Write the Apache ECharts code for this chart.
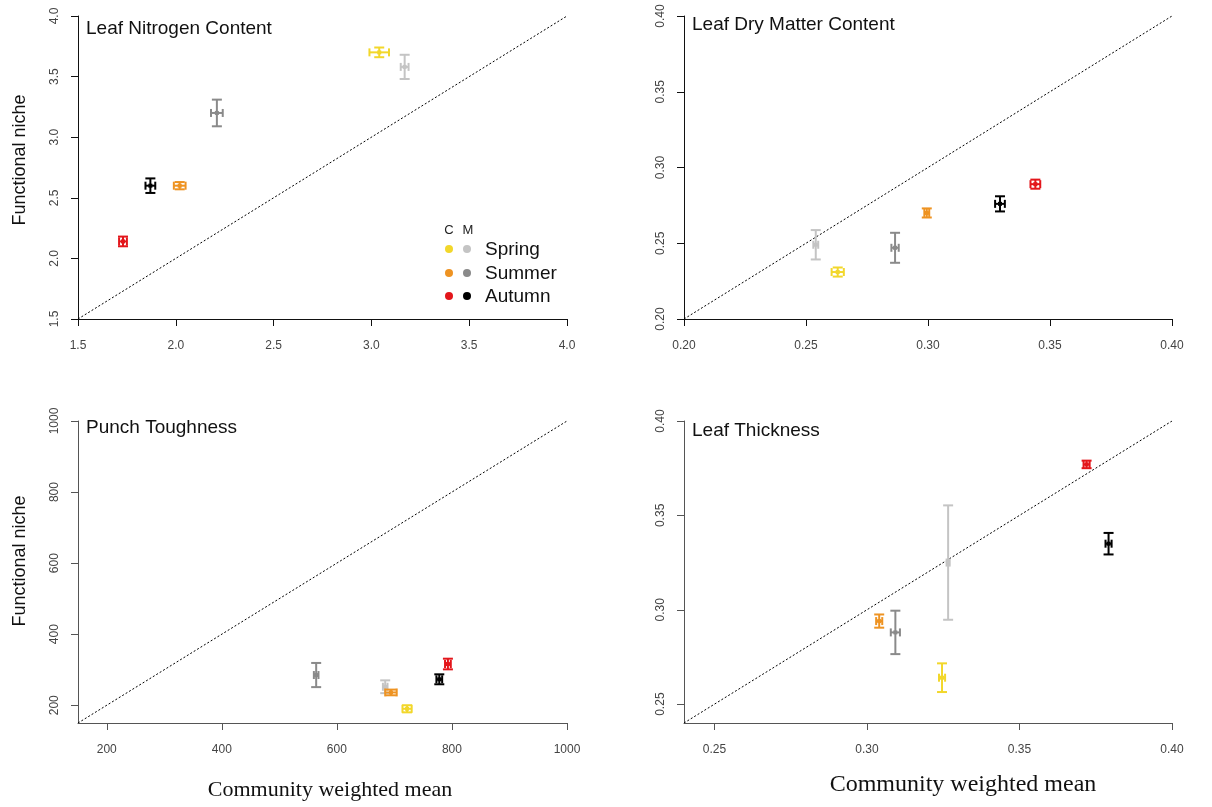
<!DOCTYPE html>
<html>
<head>
<meta charset="utf-8">
<script src="https://cdn.jsdelivr.net/npm/echarts@6/dist/echarts.min.js"></script>
<style>html,body{margin:0;padding:0;background:#fff}#c{width:1212px;height:807px}</style>
</head>
<body>
<div id="c"></div>
<script>
// ---- data (order: Spring, Summer, Autumn) ----
const seasons = ['Spring', 'Summer', 'Autumn'];
const colorsC = ['#F2D72B', '#EE9322', '#E3161B'];
const colorsM = ['#C4C4C4', '#8A8A8A', '#000000'];

const titles = ['Leaf Nitrogen Content', 'Leaf Dry Matter Content', 'Punch Toughness', 'Leaf Thickness'];

// Leaf Nitrogen Content
const lncCx = [3.04, 2.02, 1.73];
const lncCy = [3.70, 2.60, 2.14];
const lncCxErr = [0.05, 0.03, 0.02];
const lncCyErr = [0.04, 0.03, 0.04];
const lncMx = [3.17, 2.21, 1.87];
const lncMy = [3.58, 3.20, 2.60];
const lncMxErr = [0.02, 0.03, 0.025];
const lncMyErr = [0.10, 0.11, 0.06];
const lncTicks = [1.5, 2.0, 2.5, 3.0, 3.5, 4.0];

// Leaf Dry Matter Content
const ldmcCx = [0.263, 0.2995, 0.344];
const ldmcCy = [0.231, 0.270, 0.289];
const ldmcCxErr = [0.0025, 0.001, 0.002];
const ldmcCyErr = [0.003, 0.003, 0.003];
const ldmcMx = [0.254, 0.2865, 0.3295];
const ldmcMy = [0.249, 0.247, 0.276];
const ldmcMxErr = [0.001, 0.0015, 0.002];
const ldmcMyErr = [0.0097, 0.0099, 0.005];
const ldmcTicks = [0.20, 0.25, 0.30, 0.35, 0.40];

// Punch Toughness
const ptCx = [722, 694, 793];
const ptCy = [190, 236, 316];
const ptCxErr = [8, 10, 5];
const ptCyErr = [10, 8, 15];
const ptMx = [684, 564, 778];
const ptMy = [252, 285, 273];
const ptMxErr = [4, 4, 5];
const ptMyErr = [18, 34, 14];
const ptTicks = [200, 400, 600, 800, 1000];

// Leaf Thickness
const ltCx = [0.3246, 0.304, 0.372];
const ltCy = [0.264, 0.294, 0.377];
const ltCxErr = [0.001, 0.001, 0.001];
const ltCyErr = [0.0076, 0.0035, 0.002];
const ltMx = [0.3266, 0.3093, 0.3792];
const ltMy = [0.325, 0.288, 0.335];
const ltMxErr = [0.0005, 0.0015, 0.001];
const ltMyErr = [0.0303, 0.0115, 0.0057];
const ltTicks = [0.25, 0.30, 0.35, 0.40];

const ranges = [[1.5, 4.0], [0.20, 0.40], [150, 1000], [0.24, 0.40]];
const tickSets = [lncTicks, ldmcTicks, ptTicks, ltTicks];
const decimals = [1, 2, 0, 2];

const panelData = [
  [lncCx, lncCy, lncCxErr, lncCyErr, lncMx, lncMy, lncMxErr, lncMyErr],
  [ldmcCx, ldmcCy, ldmcCxErr, ldmcCyErr, ldmcMx, ldmcMy, ldmcMxErr, ldmcMyErr],
  [ptCx, ptCy, ptCxErr, ptCyErr, ptMx, ptMy, ptMxErr, ptMyErr],
  [ltCx, ltCy, ltCxErr, ltCyErr, ltMx, ltMy, ltMxErr, ltMyErr]
];

// ---- layout ----
const gridBoxes = [
  {left: 78, top: 16, width: 489, height: 303},
  {left: 684, top: 16, width: 488, height: 303},
  {left: 78, top: 421, width: 489, height: 302},
  {left: 684, top: 421, width: 488, height: 302}
];
const axisCol = ['#111', '#111', '#555', '#555'];

function makeItems(xs, ys, xe, ye) {
  return xs.map((x, i) => [x, ys[i], x - xe[i], x + xe[i], ys[i] - ye[i], ys[i] + ye[i]]);
}

function renderErr(colors) {
  return function (params, api) {
    const x = api.value(0), y = api.value(1);
    const c = api.coord([x, y]);
    const xl = api.coord([api.value(2), y]);
    const xh = api.coord([api.value(3), y]);
    const yl = api.coord([x, api.value(4)]);
    const yh = api.coord([x, api.value(5)]);
    const col = colors[params.dataIndex];
    const st = {stroke: col, lineWidth: 2, fill: null};
    const cap = 5, hcap = 4;
    const ch = [];
    ch.push({type: 'line', shape: {x1: c[0], y1: yl[1], x2: c[0], y2: yh[1]}, style: st});
    ch.push({type: 'line', shape: {x1: c[0] - cap, y1: yl[1], x2: c[0] + cap, y2: yl[1]}, style: st});
    ch.push({type: 'line', shape: {x1: c[0] - cap, y1: yh[1], x2: c[0] + cap, y2: yh[1]}, style: st});
    ch.push({type: 'line', shape: {x1: xl[0], y1: c[1], x2: xh[0], y2: c[1]}, style: st});
    ch.push({type: 'line', shape: {x1: xl[0], y1: c[1] - hcap, x2: xl[0], y2: c[1] + hcap}, style: st});
    ch.push({type: 'line', shape: {x1: xh[0], y1: c[1] - hcap, x2: xh[0], y2: c[1] + hcap}, style: st});
    ch.push({type: 'rect', shape: {x: c[0] - 2, y: c[1] - 2, width: 4, height: 4}, style: {fill: col}});
    return {type: 'group', children: ch};
  };
}

const grids = [], xAxes = [], yAxes = [], series = [];
for (let p = 0; p < 4; p++) {
  grids.push(Object.assign({containLabel: false}, gridBoxes[p]));
  const r = ranges[p];
  const fmt = v => Number(v).toFixed(decimals[p]);
  const common = {
    type: 'value', gridIndex: p, min: r[0], max: r[1],
    splitLine: {show: false},
    axisLine: {show: true, onZero: false, lineStyle: {color: axisCol[p], width: 1}},
    axisTick: {show: true, length: 7, customValues: tickSets[p], lineStyle: {color: axisCol[p]}},
    axisLabel: {customValues: tickSets[p], formatter: fmt, color: '#444',
      fontFamily: 'Liberation Sans', fontSize: 12}
  };
  xAxes.push(Object.assign({}, common, {
    axisLabel: Object.assign({}, common.axisLabel, {margin: 21})
  }));
  yAxes.push(Object.assign({}, common, {
    axisLabel: Object.assign({}, common.axisLabel, {rotate: 90, margin: 17})
  }));
  const d = panelData[p];
  series.push({
    type: 'line', xAxisIndex: p, yAxisIndex: p, silent: true, symbol: 'none',
    data: [[r[0], r[0]], [r[1], r[1]]],
    lineStyle: {color: '#000', width: 1, type: [2, 2]}, z: 1
  });
  series.push({
    type: 'custom', xAxisIndex: p, yAxisIndex: p, renderItem: renderErr(colorsM),
    data: makeItems(d[4], d[5], d[6], d[7]), encode: {x: [0, 2, 3], y: [1, 4, 5]}, z: 3
  });
  series.push({
    type: 'custom', xAxisIndex: p, yAxisIndex: p, renderItem: renderErr(colorsC),
    data: makeItems(d[0], d[1], d[2], d[3]), encode: {x: [0, 2, 3], y: [1, 4, 5]}, z: 4
  });
}

const graphics = [];
const titlePos = [[86, 29], [692, 25], [86, 428], [692, 431]];
titles.forEach((t, i) => graphics.push({
  type: 'text', x: titlePos[i][0], y: titlePos[i][1],
  style: {text: t, font: '19px "Liberation Sans"', fill: '#111', textVerticalAlign: 'middle'}
}));
[[20, 160], [20, 561]].forEach(pos => graphics.push({
  type: 'text', x: pos[0], y: pos[1], rotation: Math.PI / 2,
  style: {text: 'Functional niche', font: '18px "Liberation Sans"', fill: '#111',
    textAlign: 'center', textVerticalAlign: 'middle'}
}));
graphics.push({type: 'text', x: 330, y: 790,
  style: {text: 'Community weighted mean', font: '22px "Liberation Serif"', fill: '#111',
    textAlign: 'center', textVerticalAlign: 'middle'}});
graphics.push({type: 'text', x: 963, y: 785,
  style: {text: 'Community weighted mean', font: '24px "Liberation Serif"', fill: '#111',
    textAlign: 'center', textVerticalAlign: 'middle'}});
// legend in first panel
graphics.push({type: 'text', x: 449, y: 230, style: {text: 'C', font: '13px "Liberation Sans"', fill: '#222', textAlign: 'center', textVerticalAlign: 'middle'}});
graphics.push({type: 'text', x: 468, y: 230, style: {text: 'M', font: '13px "Liberation Sans"', fill: '#222', textAlign: 'center', textVerticalAlign: 'middle'}});
const legY = [249, 273, 296];
seasons.forEach((s, i) => {
  graphics.push({type: 'circle', shape: {cx: 449, cy: legY[i], r: 4}, style: {fill: colorsC[i]}});
  graphics.push({type: 'circle', shape: {cx: 467, cy: legY[i], r: 4}, style: {fill: colorsM[i]}});
  graphics.push({type: 'text', x: 485, y: legY[i] + 1,
    style: {text: s, font: '19px "Liberation Sans"', fill: '#111', textVerticalAlign: 'middle'}});
});

const chart = echarts.init(document.getElementById('c'), null, {renderer: 'canvas'});
chart.setOption({
  animation: false,
  backgroundColor: '#fff',
  grid: grids, xAxis: xAxes, yAxis: yAxes, series: series,
  graphic: graphics
});
</script>
</body>
</html>
